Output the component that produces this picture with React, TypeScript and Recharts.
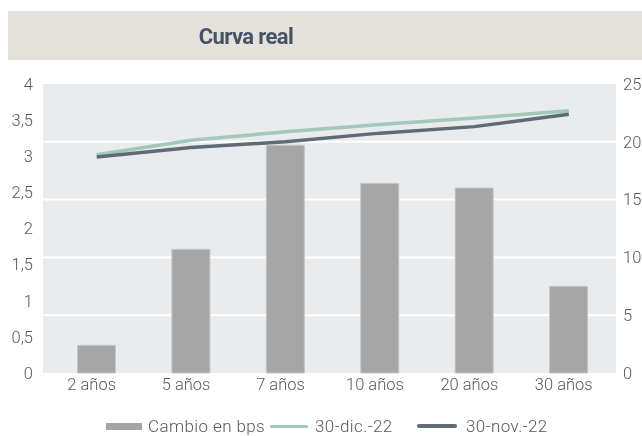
import { ComposedChart, Bar, Line, XAxis, YAxis, CartesianGrid, Legend } from "recharts"

const plazos = ["2 años", "5 años", "7 años", "10 años", "20 años", "30 años"]
const cambioBps = [2.4, 10.7, 19.7, 16.4, 16.0, 7.5]
const dic22 = [3.02, 3.22, 3.34, 3.44, 3.53, 3.63]
const nov22 = [2.99, 3.12, 3.2, 3.32, 3.41, 3.58]
const leftTicks = [0, 0.5, 1, 1.5, 2, 2.5, 3, 3.5, 4]
const rightTicks = [0, 5, 10, 15, 20, 25]

const data = plazos.map((p, i) => ({
  plazo: p,
  "Cambio en bps": cambioBps[i],
  "30-dic.-22": dic22[i],
  "30-nov.-22": nov22[i],
}))

const font = "Roboto, 'Noto Sans', sans-serif"
const tickStyle = { fontSize: 16.5, fill: "#595959", fontFamily: font, fontWeight: 300 }

function LegendBox() {
  const item = { display: "flex", alignItems: "center" }
  return (
    <div
      style={{
        display: "flex",
        paddingLeft: 98,
        paddingTop: 15,
        fontFamily: font,
        fontWeight: 300,
        fontSize: 17,
        letterSpacing: 0.4,
        color: "#595959",
        lineHeight: "16px",
        whiteSpace: "nowrap",
      }}
    >
      <div style={item}>
        <span style={{ width: 36, height: 7, background: "#a6a6a6", marginRight: 6 }} />
        <span style={{ width: 122 }}>Cambio en bps</span>
      </div>
      <div style={item}>
        <span style={{ width: 38, height: 3, background: "#a2c8b9", marginRight: 7, borderRadius: 2 }} />
        <span style={{ width: 102 }}>30-dic.-22</span>
      </div>
      <div style={item}>
        <span style={{ width: 40, height: 4, background: "#5f6b75", marginRight: 9, borderRadius: 2 }} />
        <span>30-nov.-22</span>
      </div>
    </div>
  )
}

export default function App() {
  return (
    // fixed to the viewport so nothing can push the page into scrolling
    <div style={{ position: "fixed", left: 0, top: 0, width: 642, height: 436, overflow: "hidden" }}>
      <div
        style={{
          position: "absolute",
          left: 8,
          top: 11,
          width: 634,
          height: 49,
          background: "#e5e2dc",
        }}
      >
        <div
          style={{
            position: "absolute",
            left: 188,
            width: 100,
            top: 1,
            height: 49,
            lineHeight: "49px",
            textAlign: "center",
            fontFamily: font,
            fontWeight: 700,
            fontSize: 22,
            letterSpacing: -0.6,
            color: "#465366",
            whiteSpace: "nowrap",
          }}
        >
          Curva real
        </div>
      </div>
      <div style={{ position: "absolute", left: 8, top: 8 }}>
        <ComposedChart
          width={634}
          height={428}
          data={data}
          margin={{ top: 76, right: 0, left: 0, bottom: 3 }}
          style={{ overflow: "visible" }}
        >
          <CartesianGrid
            yAxisId="right"
            vertical={false}
            fill="#eaebed"
            stroke="#ffffff"
            strokeWidth={2}
            horizontalValues={[5, 10, 15, 20]}
          />
          <XAxis
            dataKey="plazo"
            height={30}
            padding={{ left: 6.5, right: 0 }}
            tickLine={false}
            axisLine={false}
            tickSize={0}
            tickMargin={5}
            tick={{ ...tickStyle, dx: -5 }}
            interval={0}
          />
          <YAxis
            yAxisId="left"
            width={35}
            domain={[0, 4]}
            ticks={leftTicks}
            tickLine={false}
            axisLine={false}
            tickSize={0}
            tickMargin={10}
            tick={tickStyle}
            tickFormatter={(v) => String(v).replace(".", ",")}
          />
          <YAxis
            yAxisId="right"
            orientation="right"
            width={26}
            domain={[0, 25]}
            ticks={rightTicks}
            tickLine={false}
            axisLine={false}
            tickSize={0}
            tickMargin={7}
            tick={{ ...tickStyle, textAnchor: "start" }}
          />
          <Legend verticalAlign="bottom" height={30} content={() => <LegendBox />} />
          <Bar
            yAxisId="right"
            dataKey="Cambio en bps"
            barSize={38}
            fill="#a6a6a6"
            stroke="#c6c6c6"
            strokeWidth={1}
            isAnimationActive={false}
          />
          <Line
            yAxisId="left"
            type="linear"
            dataKey="30-dic.-22"
            stroke="#a2c8b9"
            strokeWidth={3.5}
            dot={false}
            isAnimationActive={false}
          />
          <Line
            yAxisId="left"
            type="linear"
            dataKey="30-nov.-22"
            stroke="#5f6b75"
            strokeWidth={3.5}
            dot={false}
            isAnimationActive={false}
          />
        </ComposedChart>
      </div>
    </div>
  )
}
